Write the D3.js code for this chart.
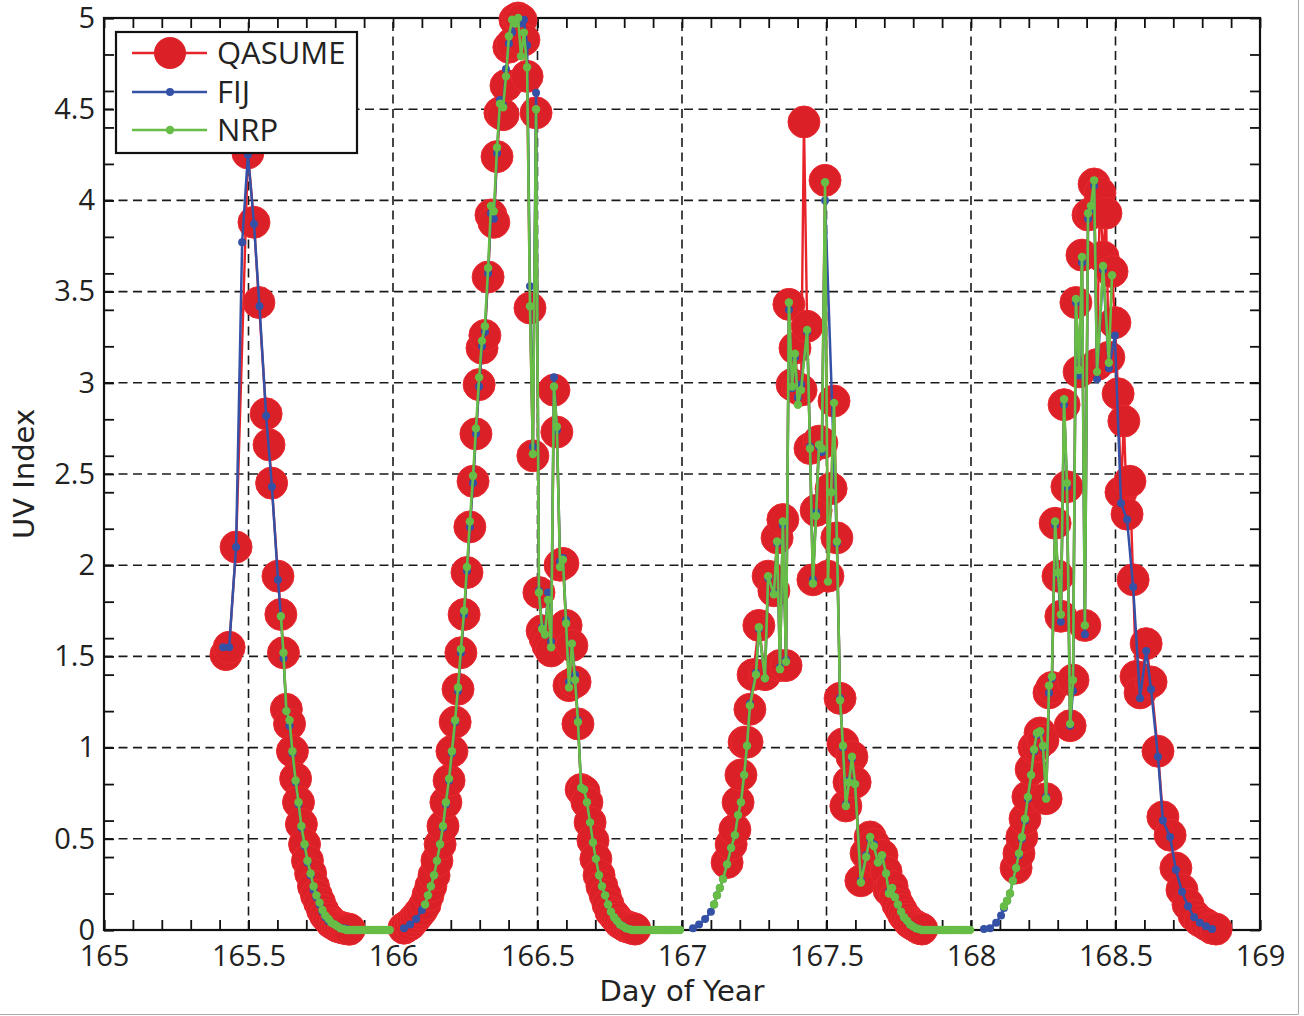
<!DOCTYPE html>
<html>
<head>
<meta charset="utf-8">
<script src="https://cdn.jsdelivr.net/npm/d3@7"></script>
<style>
  body { margin: 0; background: #fff; }
  text { fill: #222; }
</style>
</head>
<body>
<script>
// ---- data: [day of year, UV index] ----
const qasume165 = [[165.422,1.51],[165.433,1.55],[165.457,2.10],[165.498,4.26],[165.519,3.88],[165.536,3.44],[165.561,2.83],[165.571,2.66],[165.580,2.45],[165.602,1.94],[165.612,1.73],[165.621,1.52],[165.631,1.21],[165.642,1.13],[165.652,0.98],[165.663,0.83],[165.673,0.70],[165.683,0.58],[165.694,0.47],[165.704,0.38],[165.715,0.31],[165.725,0.24],[165.735,0.19],[165.746,0.15],[165.756,0.11],[165.766,0.08],[165.777,0.06],[165.787,0.04],[165.798,0.03],[165.808,0.02],[165.818,0.015],[165.829,0.01],[165.839,0.007],[165.849,0.004]];
const qasume166 = [[166.038,0.01],[166.048,0.02],[166.059,0.03],[166.069,0.05],[166.080,0.07],[166.090,0.09],[166.100,0.11],[166.111,0.14],[166.121,0.19],[166.131,0.24],[166.142,0.30],[166.152,0.38],[166.163,0.47],[166.173,0.57],[166.183,0.70],[166.194,0.82],[166.204,0.98],[166.215,1.14],[166.225,1.32],[166.235,1.52],[166.246,1.73],[166.256,1.96],[166.266,2.21],[166.277,2.46],[166.287,2.72],[166.298,2.99],[166.308,3.19],[166.318,3.26],[166.329,3.58],[166.339,3.92],[166.349,3.88],[166.360,4.24],[166.370,4.48],[166.381,4.47],[166.391,4.63],[166.401,4.84],[166.412,4.86],[166.422,4.99],[166.433,5.00],[166.443,4.99],[166.453,4.88],[166.464,4.68],[166.474,3.41],[166.484,2.60],[166.495,4.48],[166.505,1.85],[166.516,1.64],[166.526,1.60],[166.536,1.56],[166.547,1.53],[166.557,2.96],[166.567,2.73],[166.578,2.00],[166.588,2.01],[166.599,1.67],[166.609,1.34],[166.619,1.56],[166.630,1.36],[166.640,1.13],[166.651,0.77],[166.661,0.76],[166.671,0.70],[166.682,0.59],[166.692,0.49],[166.702,0.39],[166.713,0.30],[166.723,0.24],[166.734,0.19],[166.744,0.14],[166.754,0.10],[166.765,0.08],[166.775,0.06],[166.785,0.04],[166.796,0.03],[166.806,0.02],[166.817,0.015],[166.827,0.01],[166.837,0.005]];
const qasume167 = [[167.156,0.37],[167.170,0.47],[167.183,0.55],[167.194,0.70],[167.204,0.85],[167.215,1.03],[167.225,1.03],[167.235,1.21],[167.246,1.40],[167.266,1.67],[167.287,1.40],[167.298,1.94],[167.318,1.86],[167.329,2.15],[167.339,1.45],[167.349,2.25],[167.360,1.45],[167.370,3.43],[167.381,2.99],[167.391,3.19],[167.401,2.97],[167.412,2.96],[167.422,4.43],[167.433,3.31],[167.443,2.64],[167.453,1.92],[167.464,2.30],[167.474,2.68],[167.484,2.67],[167.495,4.11],[167.505,1.94],[167.516,2.42],[167.526,2.90],[167.536,2.15],[167.547,1.27],[167.557,1.02],[167.567,0.68],[167.578,0.81],[167.588,0.95],[167.599,0.81],[167.619,0.27],[167.637,0.42],[167.651,0.51],[167.664,0.47],[167.678,0.38],[167.692,0.41],[167.706,0.32],[167.716,0.22],[167.727,0.24],[167.737,0.18],[167.747,0.14],[167.758,0.11],[167.768,0.08],[167.779,0.06],[167.789,0.04],[167.799,0.03],[167.810,0.02],[167.820,0.01],[167.830,0.005]];
const qasume168 = [[168.156,0.34],[168.166,0.42],[168.176,0.51],[168.187,0.61],[168.197,0.73],[168.208,0.88],[168.218,1.00],[168.228,1.01],[168.239,1.08],[168.249,1.04],[168.260,0.72],[168.270,1.30],[168.280,1.33],[168.291,2.23],[168.301,1.94],[168.311,1.72],[168.322,2.88],[168.332,2.43],[168.343,1.12],[168.353,1.37],[168.363,3.44],[168.374,3.06],[168.384,3.70],[168.394,1.67],[168.405,3.92],[168.415,3.93],[168.426,4.09],[168.436,3.10],[168.446,4.04],[168.457,3.69],[168.467,3.93],[168.477,3.14],[168.488,3.61],[168.498,3.33],[168.509,2.94],[168.519,2.40],[168.529,2.79],[168.540,2.28],[168.550,2.46],[168.561,1.92],[168.571,1.39],[168.585,1.30],[168.606,1.57],[168.623,1.36],[168.647,0.98],[168.664,0.62],[168.689,0.52],[168.709,0.34],[168.730,0.22],[168.751,0.14],[168.772,0.08],[168.792,0.05],[168.813,0.03],[168.834,0.01],[168.848,0.005]];

const fij165 = [[165.412,1.55],[165.433,1.55],[165.457,2.10],[165.478,3.77],[165.498,4.25],[165.519,3.87],[165.538,3.42],[165.561,2.82],[165.581,2.43],[165.602,1.92],[165.612,1.72],[165.621,1.49],[165.631,1.20],[165.642,1.12],[165.652,0.97],[165.663,0.81],[165.673,0.69],[165.683,0.56],[165.694,0.46],[165.704,0.37],[165.715,0.30],[165.725,0.22],[165.735,0.18],[165.746,0.14],[165.756,0.10],[165.766,0.07],[165.777,0.05],[165.787,0.04],[165.798,0.03],[165.808,0.02],[165.818,0.01],[165.829,0.01],[165.839,0.005],[165.849,0.002]];
const fij166 = [[166.038,0.01],[166.059,0.03],[166.080,0.06],[166.100,0.11],[166.111,0.14],[166.121,0.19],[166.131,0.24],[166.142,0.30],[166.152,0.38],[166.163,0.47],[166.173,0.56],[166.183,0.69],[166.194,0.82],[166.204,0.97],[166.215,1.14],[166.225,1.31],[166.235,1.52],[166.246,1.73],[166.256,1.97],[166.266,2.21],[166.277,2.45],[166.287,2.72],[166.298,2.98],[166.308,3.20],[166.318,3.28],[166.329,3.60],[166.339,3.93],[166.349,3.90],[166.360,4.26],[166.370,4.55],[166.381,4.52],[166.391,4.72],[166.401,4.86],[166.412,4.92],[166.422,4.97],[166.433,4.99],[166.443,4.97],[166.453,4.99],[166.464,4.85],[166.474,3.53],[166.484,2.65],[166.495,4.59],[166.505,1.86],[166.516,1.66],[166.526,1.62],[166.536,1.85],[166.547,1.58],[166.557,3.03],[166.567,2.74],[166.578,2.02],[166.588,2.04],[166.599,1.70],[166.609,1.36],[166.619,1.57],[166.630,1.40],[166.640,1.15],[166.651,0.78],[166.661,0.77],[166.671,0.70],[166.682,0.59],[166.692,0.48],[166.702,0.39],[166.713,0.30],[166.723,0.24],[166.734,0.19],[166.744,0.14],[166.754,0.10],[166.765,0.07],[166.775,0.05],[166.785,0.03],[166.796,0.02],[166.806,0.01],[166.817,0.005]];
const fij167 = [[167.038,0.01],[167.059,0.03],[167.080,0.06],[167.100,0.10],[167.111,0.14],[167.121,0.19],[167.131,0.23],[167.142,0.28],[167.156,0.36],[167.170,0.45],[167.183,0.52],[167.194,0.63],[167.204,0.70],[167.215,0.85],[167.225,1.01],[167.235,1.24],[167.256,1.41],[167.266,1.65],[167.287,1.38],[167.298,1.93],[167.318,1.85],[167.329,2.12],[167.339,1.44],[167.349,2.22],[167.360,1.48],[167.370,3.40],[167.381,2.97],[167.391,3.14],[167.401,2.92],[167.412,2.99],[167.433,3.28],[167.443,2.65],[167.453,1.92],[167.464,2.29],[167.474,2.65],[167.484,2.62],[167.495,4.00],[167.536,2.12],[167.547,1.27],[167.557,1.00],[167.567,0.69],[167.578,0.82],[167.588,0.94],[167.599,0.80],[167.619,0.27],[167.637,0.41],[167.651,0.50],[167.664,0.47],[167.678,0.37],[167.692,0.40],[167.706,0.31],[167.716,0.21],[167.727,0.23],[167.737,0.18],[167.747,0.14],[167.758,0.10],[167.768,0.07],[167.779,0.05],[167.789,0.03],[167.799,0.02],[167.810,0.01],[167.820,0.005]];
const fij168 = [[168.045,0.005],[168.066,0.01],[168.087,0.04],[168.104,0.08],[168.114,0.12],[168.125,0.16],[168.135,0.20],[168.145,0.27],[168.156,0.34],[168.166,0.41],[168.176,0.50],[168.187,0.60],[168.197,0.72],[168.208,0.85],[168.218,0.98],[168.228,1.07],[168.239,1.08],[168.249,1.00],[168.260,0.73],[168.270,1.30],[168.280,1.38],[168.291,2.22],[168.301,1.95],[168.311,1.69],[168.322,2.88],[168.332,2.43],[168.343,1.12],[168.353,1.31],[168.363,3.44],[168.374,3.04],[168.384,3.66],[168.394,1.62],[168.405,3.90],[168.415,3.95],[168.426,4.08],[168.436,3.02],[168.457,3.62],[168.477,3.08],[168.498,3.26],[168.519,2.34],[168.540,2.25],[168.561,1.88],[168.585,1.27],[168.606,1.53],[168.623,1.32],[168.647,0.95],[168.664,0.60],[168.689,0.51],[168.709,0.33],[168.730,0.21],[168.751,0.13],[168.772,0.07],[168.792,0.04],[168.813,0.02],[168.834,0.005]];

const nrp165 = [[165.612,1.72],[165.621,1.52],[165.631,1.20],[165.642,1.15],[165.652,0.98],[165.663,0.82],[165.673,0.70],[165.683,0.57],[165.694,0.47],[165.704,0.38],[165.715,0.31],[165.725,0.24],[165.735,0.19],[165.746,0.15],[165.756,0.11],[165.766,0.08],[165.777,0.06],[165.787,0.04],[165.798,0.03],[165.808,0.02],[165.818,0.01],[165.829,0.005],[165.839,0],[165.849,0],[165.860,0],[165.870,0],[165.881,0],[165.891,0],[165.901,0],[165.912,0],[165.922,0],[165.933,0],[165.943,0],[165.953,0],[165.964,0],[165.974,0],[165.984,0],[165.989,0]];
const nrp166 = [[166.111,0.14],[166.121,0.19],[166.131,0.24],[166.142,0.30],[166.152,0.38],[166.163,0.47],[166.173,0.57],[166.183,0.70],[166.194,0.83],[166.204,0.98],[166.215,1.15],[166.225,1.33],[166.235,1.54],[166.246,1.75],[166.256,1.99],[166.266,2.24],[166.277,2.49],[166.287,2.75],[166.298,3.03],[166.308,3.23],[166.318,3.31],[166.329,3.63],[166.339,3.97],[166.349,3.94],[166.360,4.29],[166.370,4.53],[166.381,4.51],[166.391,4.68],[166.401,4.90],[166.412,4.99],[166.422,4.97],[166.433,5.00],[166.443,4.79],[166.453,4.92],[166.464,4.73],[166.474,3.42],[166.484,2.61],[166.495,4.50],[166.505,1.85],[166.516,1.65],[166.526,1.62],[166.536,1.81],[166.547,1.55],[166.557,2.98],[166.567,2.76],[166.578,1.99],[166.588,2.03],[166.599,1.68],[166.609,1.33],[166.619,1.57],[166.630,1.37],[166.640,1.14],[166.651,0.78],[166.661,0.77],[166.671,0.70],[166.682,0.59],[166.692,0.48],[166.702,0.39],[166.713,0.30],[166.723,0.24],[166.734,0.19],[166.744,0.14],[166.754,0.10],[166.765,0.07],[166.775,0.05],[166.785,0.03],[166.796,0.02],[166.806,0.01],[166.817,0.005],[166.827,0],[166.837,0],[166.848,0],[166.858,0],[166.869,0],[166.879,0],[166.889,0],[166.900,0],[166.910,0],[166.920,0],[166.931,0],[166.941,0],[166.952,0],[166.962,0],[166.972,0],[166.983,0],[166.993,0]];
const nrp167 = [[167.111,0.14],[167.121,0.19],[167.131,0.23],[167.142,0.28],[167.156,0.36],[167.170,0.45],[167.183,0.52],[167.194,0.63],[167.204,0.70],[167.215,0.85],[167.225,1.01],[167.235,1.23],[167.256,1.40],[167.266,1.66],[167.287,1.38],[167.298,1.94],[167.318,1.84],[167.329,2.13],[167.339,1.43],[167.349,2.24],[167.360,1.47],[167.370,3.44],[167.381,2.98],[167.391,3.16],[167.401,2.88],[167.412,2.96],[167.433,3.29],[167.443,2.64],[167.453,1.90],[167.464,2.27],[167.474,2.66],[167.484,2.64],[167.495,4.10],[167.505,1.91],[167.516,2.40],[167.526,2.89],[167.536,2.13],[167.547,1.26],[167.557,1.01],[167.567,0.68],[167.578,0.81],[167.588,0.95],[167.599,0.80],[167.619,0.26],[167.637,0.40],[167.651,0.51],[167.664,0.46],[167.678,0.37],[167.692,0.41],[167.706,0.31],[167.716,0.20],[167.727,0.23],[167.737,0.18],[167.747,0.14],[167.758,0.10],[167.768,0.07],[167.779,0.05],[167.789,0.03],[167.799,0.02],[167.810,0.01],[167.820,0.005],[167.830,0],[167.841,0],[167.851,0],[167.862,0],[167.872,0],[167.882,0],[167.893,0],[167.903,0],[167.913,0],[167.924,0],[167.934,0],[167.945,0],[167.955,0],[167.965,0],[167.976,0],[167.986,0],[167.997,0]];
const nrp168 = [[168.114,0.13],[168.125,0.16],[168.135,0.20],[168.145,0.27],[168.156,0.34],[168.166,0.42],[168.176,0.51],[168.187,0.61],[168.197,0.73],[168.208,0.85],[168.218,0.99],[168.228,1.08],[168.239,1.09],[168.249,1.01],[168.260,0.72],[168.270,1.34],[168.280,1.39],[168.291,2.24],[168.301,1.96],[168.311,1.73],[168.322,2.91],[168.332,2.45],[168.343,1.13],[168.353,1.37],[168.363,3.46],[168.374,3.07],[168.384,3.69],[168.394,1.67],[168.405,3.93],[168.415,3.97],[168.426,4.11],[168.436,3.06],[168.457,3.64],[168.477,3.11],[168.488,3.59]];

const xTicks = [165, 165.5, 166, 166.5, 167, 167.5, 168, 168.5, 169];
const yTicks = [0, 0.5, 1, 1.5, 2, 2.5, 3, 3.5, 4, 4.5, 5];
const seriesNames = ['QASUME', 'FIJ', 'NRP'];

// ---- layout ----
const width = 1304, height = 1016;
const margin = { top: 18, right: 44, bottom: 86, left: 104 };
const red = '#dc2027', blue = '#3451a6', green = '#68bd47';

const svg = d3.select('body').append('svg')
    .attr('width', width).attr('height', height);

const x = d3.scaleLinear().domain([165, 169]).range([margin.left, width - margin.right]);
const y = d3.scaleLinear().domain([0, 5]).range([height - margin.bottom, margin.top]);

const tickFont = '"Open Sans", sans-serif';
const titleFont = '"DejaVu Sans", sans-serif';

// dashed grid
const grid = svg.append('g').attr('stroke', '#1a1a1a').attr('stroke-width', 1.6).attr('stroke-dasharray', '9,5.5');
grid.selectAll('line.gx').data(xTicks.slice(1, -1)).enter().append('line')
    .attr('x1', d => x(d)).attr('x2', d => x(d)).attr('y1', y(0)).attr('y2', y(5));
grid.selectAll('line.gy').data(yTicks.slice(1, -1)).enter().append('line')
    .attr('x1', x(165)).attr('x2', x(169)).attr('y1', d => y(d)).attr('y2', d => y(d));

// axes (ticks inward on all four sides, minor ticks too)
const tl = 10;
function styleAxis(g) {
  g.select('.domain').remove();
  g.selectAll('.tick line').attr('stroke', '#111').attr('stroke-width', 1.8);
  g.selectAll('.tick text').attr('font-family', tickFont).attr('font-size', 29).attr('fill', '#222');
}
svg.append('g').attr('transform', `translate(0,${y(0)})`)
   .call(d3.axisBottom(x).tickValues(x.ticks(40)).tickSize(-tl).tickFormat(''))
   .call(styleAxis);
svg.append('g').attr('transform', `translate(0,${y(0)})`)
   .call(d3.axisBottom(x).tickValues(xTicks).tickSize(-tl).tickPadding(15).tickFormat(d3.format('')))
   .call(styleAxis);
svg.append('g').attr('transform', `translate(0,${y(5)})`)
   .call(d3.axisTop(x).tickValues(x.ticks(40)).tickSize(-tl).tickFormat(''))
   .call(styleAxis);
svg.append('g').attr('transform', `translate(${x(165)},0)`)
   .call(d3.axisLeft(y).tickValues(y.ticks(20)).tickSize(-tl).tickFormat(''))
   .call(styleAxis);
svg.append('g').attr('transform', `translate(${x(165)},0)`)
   .call(d3.axisLeft(y).tickValues(yTicks).tickSize(-tl).tickPadding(9).tickFormat(d3.format('')))
   .call(styleAxis);
svg.append('g').attr('transform', `translate(${x(169)},0)`)
   .call(d3.axisRight(y).tickValues(y.ticks(20)).tickSize(-tl).tickFormat(''))
   .call(styleAxis);

// frame
svg.append('rect')
   .attr('x', x(165)).attr('y', y(5))
   .attr('width', x(169) - x(165)).attr('height', y(0) - y(5))
   .attr('fill', 'none').attr('stroke', '#111').attr('stroke-width', 2.2);

// axis titles
svg.append('text').attr('x', (x(165) + x(169)) / 2).attr('y', 1001)
   .attr('text-anchor', 'middle').attr('font-family', titleFont).attr('font-size', 29)
   .text('Day of Year');
svg.append('text').attr('transform', `translate(34,${(y(0) + y(5)) / 2}) rotate(-90)`)
   .attr('text-anchor', 'middle').attr('font-family', titleFont).attr('font-size', 29)
   .text('UV Index');

// ---- series ----
const line = d3.line().x(d => x(d[0])).y(d => y(d[1]));
const series = [
  { name: 'QASUME', days: [qasume165, qasume166, qasume167, qasume168], color: red, lw: 2.4, r: 16 },
  { name: 'FIJ', days: [fij165, fij166, fij167, fij168], color: blue, lw: 2.5, r: 4 },
  { name: 'NRP', days: [nrp165, nrp166, nrp167, nrp168], color: green, lw: 2.6, r: 4.2 }
];

series.forEach(s => {
  const g = svg.append('g').attr('class', s.name);
  g.selectAll('path').data(s.days).enter().append('path')
   .attr('d', line).attr('fill', 'none')
   .attr('stroke', s.name === 'QASUME' ? '#e8242b' : s.color)
   .attr('stroke-width', s.lw).attr('stroke-linejoin', 'round');
  g.selectAll('circle').data(s.days.flat()).enter().append('circle')
   .attr('cx', d => x(d[0])).attr('cy', d => y(d[1])).attr('r', s.r)
   .attr('fill', s.color)
   .attr('stroke', s.name === 'QASUME' ? '#ea2930' : 'none')
   .attr('stroke-width', 1);
});

// ---- legend ----
const lg = svg.append('g');
lg.append('rect').attr('x', 116).attr('y', 32).attr('width', 241).attr('height', 121)
  .attr('fill', '#fff').attr('stroke', '#111').attr('stroke-width', 2.2);
const rowY = [53, 92, 130];
series.forEach((s, i) => {
  lg.append('line').attr('x1', 132).attr('x2', 207).attr('y1', rowY[i]).attr('y2', rowY[i])
    .attr('stroke', s.name === 'QASUME' ? '#e8242b' : s.color).attr('stroke-width', s.lw);
  lg.append('circle').attr('cx', 170).attr('cy', rowY[i]).attr('r', s.r).attr('fill', s.color);
  lg.append('text').attr('x', 217).attr('y', rowY[i]).attr('dy', '0.36em')
    .attr('font-family', tickFont).attr('font-size', 31).text(seriesNames[i]);
});

// figure edge lines
svg.append('line').attr('x1', 1298.5).attr('x2', 1298.5).attr('y1', 0).attr('y2', 1014)
   .attr('stroke', '#aaa').attr('stroke-width', 1);
svg.append('line').attr('x1', 0).attr('x2', 1298.5).attr('y1', 1014.5).attr('y2', 1014.5)
   .attr('stroke', '#aaa').attr('stroke-width', 1);
</script>
</body>
</html>
